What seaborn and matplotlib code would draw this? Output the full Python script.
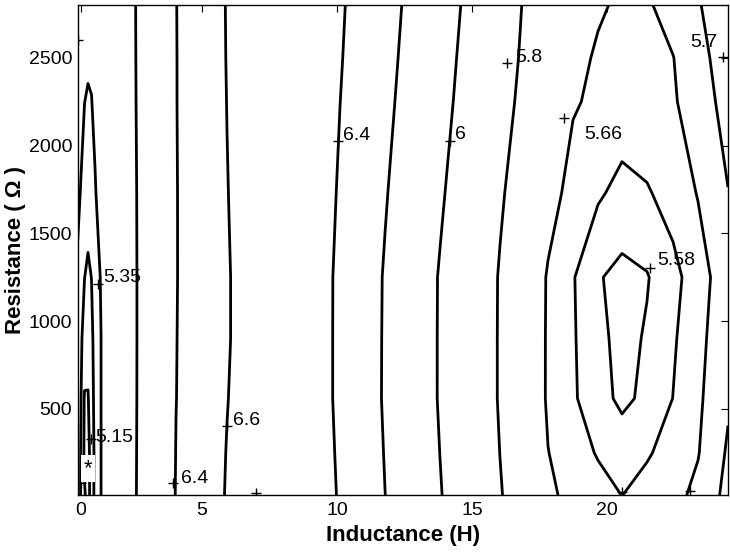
import numpy as np
import matplotlib
matplotlib.use("Agg")
import matplotlib.pyplot as plt
import seaborn as sns

# ---------------- data ----------------
inductance = [0.414, 0.536, 0.666, 0.795, 0.925, 1.054, 1.276, 1.609, 2.607, 4.050,
              5.936, 7.526, 8.820, 10.115, 11.779, 13.813, 14.922, 16.032, 16.920,
              17.807, 18.732, 19.656, 20.544, 21.468, 22.430, 23.354, 24.464]
resistance = [10, 250, 560, 900, 1250, 1730, 2250, 2500, 2800]
surface = [
    [5.290, 5.243, 5.162, 5.105, 5.205, 5.272, 5.349, 5.517, 6.011, 6.408, 6.610, 6.700,
     6.541, 6.384, 6.201, 6.007, 5.907, 5.807, 5.740, 5.668, 5.648, 5.634, 5.6195, 5.634, 5.649, 5.669, 5.712],
    [5.300, 5.244, 5.129, 5.117, 5.197, 5.273, 5.349, 5.516, 6.007, 6.404, 6.605, 6.710,
     6.540, 6.375, 6.194, 5.999, 5.899, 5.799, 5.730, 5.661, 5.637, 5.617, 5.605, 5.616, 5.635, 5.658, 5.705],
    [5.300, 5.252, 5.140, 5.142, 5.218, 5.275, 5.349, 5.514, 6.003, 6.398, 6.596, 6.720,
     6.536, 6.364, 6.186, 5.990, 5.890, 5.791, 5.716, 5.653, 5.625, 5.597, 5.570, 5.590, 5.6205, 5.653, 5.695],
    [5.310, 5.262, 5.217, 5.198, 5.234, 5.275, 5.349, 5.5125, 6.001, 6.396, 6.589, 6.720,
     6.536, 6.364, 6.187, 5.990, 5.890, 5.791, 5.717, 5.653, 5.624, 5.591, 5.567, 5.584, 5.615, 5.648, 5.690],
    [5.335, 5.294, 5.251, 5.235, 5.251, 5.289, 5.359, 5.519, 6.001, 6.394, 6.589, 6.720,
     6.536, 6.365, 6.189, 5.991, 5.891, 5.792, 5.719, 5.654, 5.623, 5.583, 5.5694, 5.5774, 5.6076, 5.642, 5.685],
    [5.370, 5.344, 5.315, 5.286, 5.312, 5.337, 5.419, 5.567, 6.005, 6.394, 6.596, 6.720,
     6.548, 6.382, 6.210, 6.017, 5.915, 5.813, 5.747, 5.684, 5.640, 5.626, 5.607, 5.616, 5.637, 5.662, 5.699],
    [5.400, 5.376, 5.351, 5.3395, 5.346, 5.383, 5.475, 5.612, 6.014, 6.396, 6.602, 6.710,
     6.555, 6.401, 6.234, 6.045, 5.943, 5.841, 5.774, 5.723, 5.665, 5.650, 5.645, 5.651, 5.656, 5.679, 5.715],
    [5.420, 5.403, 5.384, 5.365, 5.371, 5.406, 5.490, 5.624, 6.017, 6.396, 6.605, 6.700,
     6.555, 6.410, 6.245, 6.056, 5.955, 5.854, 5.784, 5.737, 5.680, 5.652, 5.650, 5.655, 5.659, 5.687, 5.720],
    [5.450, 5.430, 5.410, 5.395, 5.400, 5.430, 5.510, 5.640, 6.019, 6.397, 6.607, 6.690,
     6.555, 6.419, 6.257, 6.070, 5.969, 5.868, 5.793, 5.754, 5.714, 5.668, 5.650, 5.655, 5.677, 5.697, 5.725],
]
levels_left = [5.15, 5.25, 5.35, 6.0, 6.4, 6.6]
levels_right = [5.58, 5.62, 5.66, 5.8, 6.0, 6.2, 6.4]
levels_edge = [5.7]

label_texts = ["5.35", "5.15", "6.4", "6.6", "6.4", "6", "5.8", "5.66", "5.58", "5.7"]
label_mark_L = [1.176, 0.906, 3.939, 5.936, 10.04, 14.18, 16.29, 18.40, 21.58, 24.28]
label_mark_R = [1214, 331, 80, 405, 2023, 2023, 2468, 2154, 1305, 2502]
label_text_L = [1.350, 1.054, 4.234, 6.158, 10.225, 14.37, 16.59, 19.14, 21.84, 23.06]
label_text_R = [1248, 337, 103, 433, 2057, 2063, 2503, 2063, 1345, 2587]
extra_mark_L = [7.01, 20.54, 23.06, 0.43, 0.525]
extra_mark_R = [24, 29, 35, 2599, 80]
optimum_L, optimum_R = 0.802, 160

xtick_pos = [0.525, 5, 10, 15, 20]
xtick_lab = ["0", "5", "10", "15", "20"]
ytick_pos = [500, 1000, 1500, 2000, 2500]

# ---------------- drawing ----------------
sns.set_style("white")
plt.rcParams["font.family"] = ["Liberation Sans", "DejaVu Sans"]
plt.rcParams["text.color"] = "black"
plt.rcParams["axes.labelcolor"] = "black"
plt.rcParams["xtick.color"] = "black"
plt.rcParams["ytick.color"] = "black"

L = np.array(inductance)
R = np.array(resistance)
Z = np.array(surface)

fig = plt.figure(figsize=(7.3, 5.54), dpi=100)
ax = fig.add_axes([77.7 / 730, 1 - 495 / 554, 650.3 / 730, 490 / 554])

lw = 2.0
ax.contour(L[:12], R, Z[:, :12], levels=levels_left, colors="black", linewidths=lw)
ax.contour(L[11:], R, Z[:, 11:], levels=levels_right, colors="black", linewidths=lw)
ax.contour(L[22:], R, Z[:, 22:], levels=levels_edge, colors="black", linewidths=lw)

sns.scatterplot(x=label_mark_L + extra_mark_L, y=label_mark_R + extra_mark_R,
                marker="+", s=55, color="black", linewidth=1.0, ax=ax, legend=False)
for t, x, y in zip(label_texts, label_text_L, label_text_R):
    ax.text(x, y, t, fontsize=14, ha="left", va="center", color="black")

ax.text(optimum_L, optimum_R, "*", fontsize=16, ha="center", va="center", color="black",
        bbox=dict(boxstyle="square,pad=0.12", fc="white", ec="none"))

ax.set_xlim(inductance[0], inductance[-1])
ax.set_ylim(resistance[0], resistance[-1])
ax.set_xticks(xtick_pos)
ax.set_xticklabels(xtick_lab)
ax.set_yticks(ytick_pos)
ax.tick_params(axis="both", direction="in", length=5, width=0.8, top=True, right=True,
               labelsize=14, colors="black")
ax.tick_params(axis="x", pad=5)
ax.tick_params(axis="y", pad=4)
for s in ax.spines.values():
    s.set_color("black")
    s.set_linewidth(1.0)
    s.set_visible(True)

ax.set_xlabel("Inductance (H)", fontsize=16, fontweight="bold", va="center", color="black")
ax.set_ylabel("Resistance ( Ω )", fontsize=16, fontweight="bold", va="center", color="black")
ax.xaxis.set_label_coords(0.5, (495 - 535) / 490)
ax.yaxis.set_label_coords((15 - 77.7) / 650.3, 0.5)

fig.savefig("out.png", dpi=100)
